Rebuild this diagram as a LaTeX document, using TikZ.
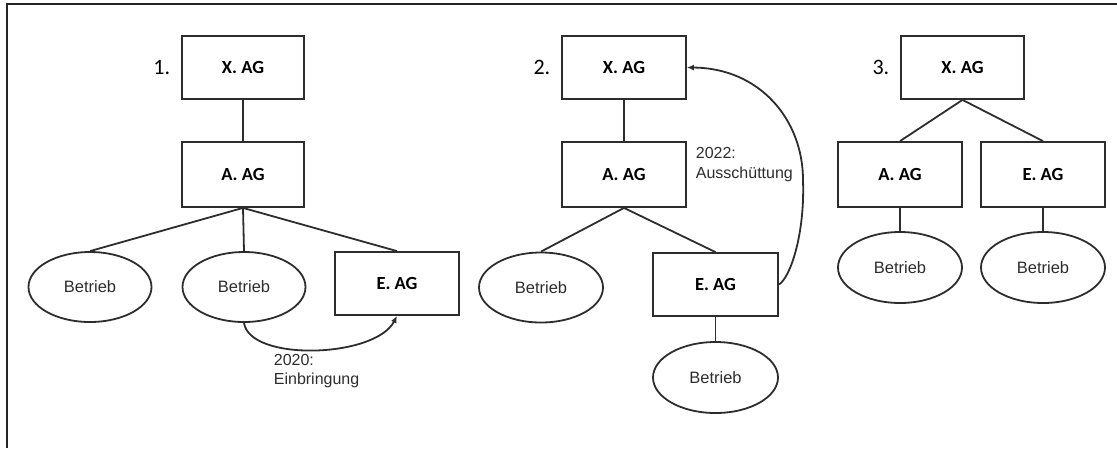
\documentclass[tikz,border=0pt]{standalone}
\usepackage{fontspec}
\setmainfont{Liberation Sans}
\newfontfamily\boxfont{Carlito}
\usetikzlibrary{arrows.meta,shapes.geometric}
\definecolor{ink}{RGB}{45,45,45}
\begin{document}
\begin{tikzpicture}[x=1pt,y=-1pt,
  line width=1.8pt, draw=ink,
  firm/.style={draw=ink, line width=1.8pt, rectangle, minimum width=122pt, minimum height=63pt,
    inner sep=0pt, font=\boxfont\bfseries\fontsize{18.5}{20}\selectfont},
  unit/.style={draw=ink, line width=1.8pt, ellipse, minimum width=123pt, minimum height=70pt,
    inner sep=0pt, text=ink, font=\fontsize{16.5}{18}\selectfont},
  num/.style={anchor=east, inner sep=0pt, font=\boxfont\fontsize{22}{24}\selectfont},
  note/.style={anchor=west, align=left, inner sep=0pt, text=ink,
    font=\fontsize{16}{19.5}\selectfont},
  link/.style={draw=ink, line width=1.8pt},
  flow/.style={draw=ink, line width=1.8pt, -{Latex[length=7pt,width=6pt]}}]
\useasboundingbox (0,0) rectangle (1117,448);
% frame edges (top and left)
\draw[line width=2pt, draw=black!85] (1117,3.5) -- (7,3.5) -- (7,448);

% ---- stage 1
\node[firm] (x1) at (243,67.5) {X. AG};
\node[firm, minimum height=65pt] (a1) at (243,174.5) {A. AG};
\node[unit] (b1a) at (90,287) {Betrieb};
\node[unit] (b1b) at (244,287) {Betrieb};
\node[firm, minimum width=124pt] (e1) at (397,283.5) {E. AG};
\node[num] (n1) at ([xshift=-10pt]x1.west) {1.};
\draw[link] (x1) -- (a1);
\draw[link] (a1.south) -- (b1a.north);
\draw[link] (a1.south) -- (b1b.north);
\draw[link] (a1.south) -- (e1.north);
\draw[flow] (b1b.south) .. controls (250,362) and (375,358) .. (e1.south);
\node[note] (t1) at (273,371) {2020:\\Einbringung};

% ---- stage 2
\node[firm, minimum width=124pt] (x2) at (624,67.5) {X. AG};
\node[firm, minimum width=124pt, minimum height=65pt] (a2) at (624,174.5) {A. AG};
\node[unit, minimum width=124pt] (b2a) at (541,287.5) {Betrieb};
\node[firm, minimum width=125pt] (e2) at (715.5,284.5) {E. AG};
\node[unit, minimum width=125pt, minimum height=71pt] (b2b) at (715.5,377.5) {Betrieb};
\node[num] (n2) at ([xshift=-10pt]x2.west) {2.};
\draw[link] (x2) -- (a2);
\draw[link] (a2.south) -- (b2a.north);
\draw[link] (a2.south) -- (e2.north);
\draw[link] (e2) -- (b2b);
\draw[flow] (e2.east) .. controls (790,278) and (805,235) .. (803,180)
  .. controls (803,120) and (760,68) .. (x2.east);
\node[note] (t2) at (695,164.5) {2022:\\Ausschüttung};

% ---- stage 3
\node[firm, minimum width=123pt] (x3) at (962.5,67.5) {X. AG};
\node[firm, minimum width=124pt, minimum height=65pt] (a3) at (900,174.5) {A. AG};
\node[firm, minimum width=124pt, minimum height=65pt] (e3) at (1043,174.5) {E. AG};
\node[unit, minimum width=124pt, minimum height=71pt] (b3a) at (900,267.5) {Betrieb};
\node[unit, minimum width=124pt, minimum height=71pt] (b3b) at (1043,267.5) {Betrieb};
\node[num] (n3) at ([xshift=-10pt]x3.west) {3.};
\draw[link] (x3.south) -- (a3.north);
\draw[link] (x3.south) -- (e3.north);
\draw[link] (a3) -- (b3a);
\draw[link] (e3) -- (b3b);
\end{tikzpicture}
\end{document}
